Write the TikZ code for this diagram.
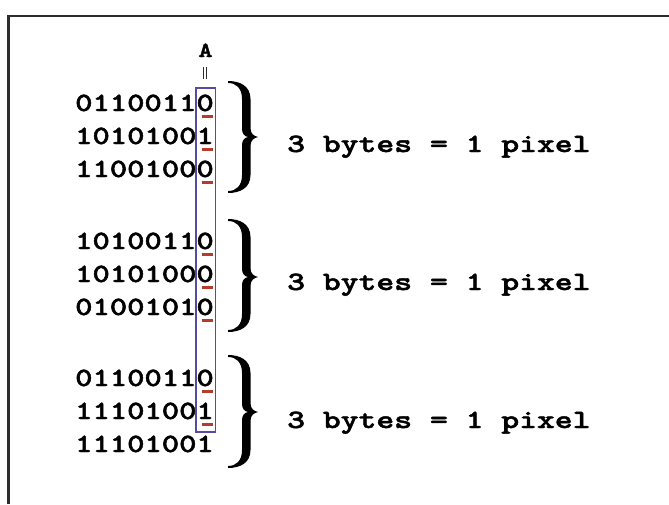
\documentclass[tikz,border=0pt]{standalone}
\usepackage{graphicx}
\usepackage{fontspec}
\newfontfamily\bitfam{lmmonolt10-bold.otf}[FakeBold=1.6]
\definecolor{boxblue}{RGB}{85,75,160}
\definecolor{markred}{RGB}{180,60,45}
\definecolor{framegray}{RGB}{45,45,45}
\newcommand{\bitfont}{\bitfam\fontsize{33}{33}\selectfont}
\newcommand{\afont}{\bitfam\fontsize{27}{27}\selectfont}
\newcommand{\sq}[1]{\scalebox{1}[0.8]{#1}}
\newcommand{\sqw}[1]{\scalebox{1.03}[0.8]{#1}}
\newcommand{\bracefill}[3]{%
\fill (228,#1) .. controls (240,#1) and (250.5,{#1+5}) .. (250.5,{#1+18})
 -- (250.5,{#3-9}) .. controls (250.5,{#3-3}) and (254,{#3-1}) .. (258,#3)
 .. controls (254,{#3+1}) and (250.5,{#3+3}) .. (250.5,{#3+9})
 -- (250.5,{#2-18}) .. controls (250.5,{#2-5}) and (240,#2) .. (228,#2)
 -- (228,{#2-2}) .. controls (236,{#2-2}) and (242,{#2-7}) .. (242,{#2-18})
 -- (242,{#3+8}) .. controls (242,{#3+3}) and (245,{#3+0.5}) .. (248,#3)
 .. controls (245,{#3-0.5}) and (242,{#3-3}) .. (242,{#3-8})
 -- (242,{#1+18}) .. controls (242,{#1+7}) and (236,{#1+2}) .. (228,{#1+2}) -- cycle;}
\begin{document}
\begin{tikzpicture}[x=1pt,y=-1pt,
  bits/.style={anchor=base west,inner sep=0pt,font=\bitfont},
  pixlabel/.style={anchor=base west,inner sep=0pt,font=\bitfont},
  redmark/.style={draw=markred,line width=3pt},
  frameline/.style={draw=framegray,line width=2.4pt}]
\useasboundingbox (0,0) rectangle (669,504);
\fill[white] (0,0) rectangle (669,504);
% frame (top and left edges visible)
\draw[frameline] (8.5,504) -- (8.5,16) -- (669,16);
% column label
\node[anchor=base,inner sep=0pt,font=\afont] (A) at (205.5,57) {\sq{A}};
\draw[framegray,line width=0.8pt] (203,67) -- (203,79) (206.5,67) -- (206.5,79);
% group 1
\node[bits] (r11) at (75,111) {\sq{01100110}};
\node[bits] (r12) at (75,144) {\sq{10101001}};
\node[bits] (r13) at (75,177) {\sq{11001000}};
% group 2
\node[bits] (r21) at (75,249) {\sq{10100110}};
\node[bits] (r22) at (75,282) {\sq{10101000}};
\node[bits] (r23) at (75,315) {\sq{01001010}};
% group 3
\node[bits] (r31) at (75,386) {\sq{01100110}};
\node[bits] (r32) at (75,419) {\sq{11101001}};
\node[bits] (r33) at (75,452) {\sq{11101001}};
% red marks under last bit
\foreach \y in {116,149,182,254,287,320,391,424}
  \draw[redmark] (201.5,\y) -- (212.5,\y);
% column box
\draw[boxblue,line width=1.3pt] (196,88) rectangle (215.5,432);
% braces
\bracefill{81}{193}{137}
\bracefill{219}{332}{277}
\bracefill{355}{468}{412}
% labels
\node[pixlabel] (p1) at (287,152) {\sqw{3 bytes = 1 pixel}};
\node[pixlabel] (p2) at (287,290) {\sqw{3 bytes = 1 pixel}};
\node[pixlabel] (p3) at (287,428) {\sqw{3 bytes = 1 pixel}};
\end{tikzpicture}
\end{document}
